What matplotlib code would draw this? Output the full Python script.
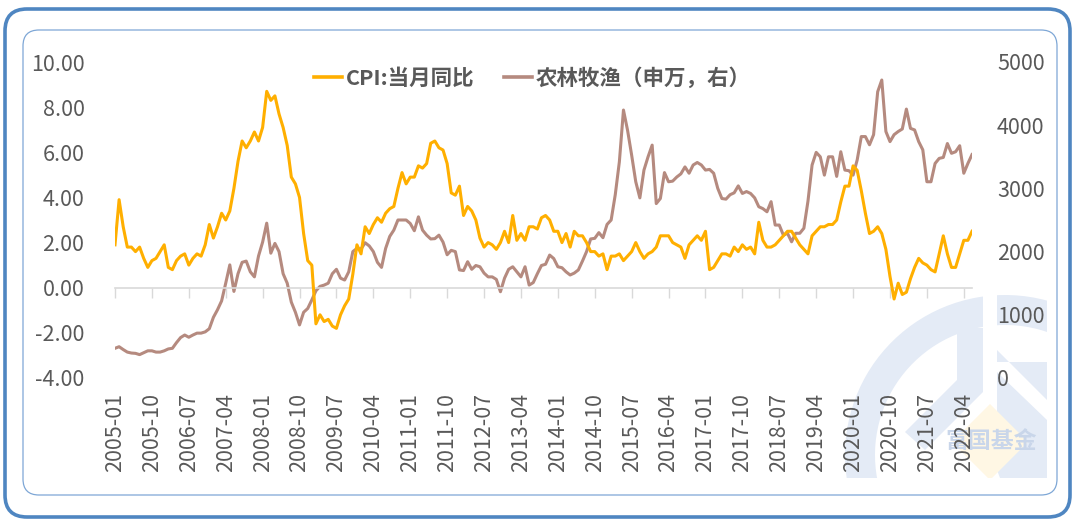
import matplotlib
matplotlib.use("Agg")
import matplotlib.pyplot as plt
from matplotlib.patches import FancyBboxPatch, Wedge, Rectangle, RegularPolygon, Polygon
from matplotlib.transforms import IdentityTransform
from matplotlib.lines import Line2D
import numpy as np
import pandas as pd

plt.rcParams['font.family'] = ['Noto Sans CJK SC', 'DejaVu Sans']

# monthly categories, 2005-01 .. 2022-06
months = pd.period_range('2005-01', '2022-06', freq='M').strftime('%Y-%m').tolist()

# CPI:当月同比 (%)
cpi = [
    1.9, 3.9, 2.7, 1.8, 1.8, 1.6, 1.8, 1.3, 0.9, 1.2, 1.3, 1.6,
    1.9, 0.9, 0.8, 1.2, 1.4, 1.5, 1.0, 1.3, 1.5, 1.4, 1.9, 2.8,
    2.2, 2.7, 3.3, 3.0, 3.4, 4.4, 5.6, 6.5, 6.2, 6.5, 6.9, 6.5,
    7.1, 8.7, 8.3, 8.5, 7.7, 7.1, 6.3, 4.9, 4.6, 4.0, 2.4, 1.2,
    1.0, -1.6, -1.2, -1.5, -1.4, -1.7, -1.8, -1.2, -0.8, -0.5, 0.6, 1.9,
    1.5, 2.7, 2.4, 2.8, 3.1, 2.9, 3.3, 3.5, 3.6, 4.4, 5.1, 4.6,
    4.9, 4.9, 5.4, 5.3, 5.5, 6.4, 6.5, 6.2, 6.1, 5.5, 4.2, 4.1,
    4.5, 3.2, 3.6, 3.4, 3.0, 2.2, 1.8, 2.0, 1.9, 1.7, 2.0, 2.5,
    2.0, 3.2, 2.1, 2.4, 2.1, 2.7, 2.7, 2.6, 3.1, 3.2, 3.0, 2.5,
    2.5, 2.0, 2.4, 1.8, 2.5, 2.3, 2.3, 2.0, 1.6, 1.6, 1.4, 1.5,
    0.8, 1.4, 1.4, 1.5, 1.2, 1.4, 1.6, 2.0, 1.6, 1.3, 1.5, 1.6,
    1.8, 2.3, 2.3, 2.3, 2.0, 1.9, 1.8, 1.3, 1.9, 2.1, 2.3, 2.1,
    2.5, 0.8, 0.9, 1.2, 1.5, 1.5, 1.4, 1.8, 1.6, 1.9, 1.7, 1.8,
    1.5, 2.9, 2.1, 1.8, 1.8, 1.9, 2.1, 2.3, 2.5, 2.5, 2.2, 1.9,
    1.7, 1.5, 2.3, 2.5, 2.7, 2.7, 2.8, 2.8, 3.0, 3.8, 4.5, 4.5,
    5.4, 5.2, 4.3, 3.3, 2.4, 2.5, 2.7, 2.4, 1.7, 0.5, -0.5, 0.2,
    -0.3, -0.2, 0.4, 0.9, 1.3, 1.1, 1.0, 0.8, 0.7, 1.5, 2.3, 1.5,
    0.9, 0.9, 1.5, 2.1, 2.1, 2.5,
]

# 农林牧渔 (申万) index, right axis
agri = [
    470, 495, 450, 410, 395, 390, 370, 400, 430, 430, 410, 410,
    430, 460, 470, 560, 640, 680, 645, 680, 710, 710, 730, 780,
    960, 1080, 1220, 1500, 1790, 1370, 1650, 1830, 1850, 1680, 1600, 1930,
    2150, 2450, 1975, 2130, 2000, 1650, 1500, 1200, 1040, 840, 1040, 1100,
    1235, 1380, 1450, 1470, 1500, 1650, 1720, 1580, 1550, 1680, 2000, 2050,
    2040, 2140, 2090, 2000, 1830, 1750, 2050, 2240, 2340, 2500, 2500, 2500,
    2445, 2330, 2550, 2340, 2260, 2200, 2205, 2260, 2150, 1950, 2020, 2000,
    1710, 1700, 1840, 1720, 1780, 1760, 1660, 1600, 1600, 1560, 1365, 1580,
    1720, 1760, 1680, 1600, 1760, 1470, 1510, 1650, 1780, 1800, 1945, 1890,
    1760, 1745, 1680, 1630, 1660, 1710, 1850, 2000, 2200, 2210, 2300, 2220,
    2430, 2500, 2900, 3420, 4240, 3920, 3525, 3105, 2850, 3290, 3500, 3685,
    2760, 2840, 3250, 3105, 3115, 3180, 3230, 3340, 3240, 3370, 3410, 3370,
    3290, 3300, 3240, 3000, 2840, 2830, 2900, 2930, 3040, 2920, 2950, 2920,
    2850, 2710, 2680, 2630, 2790, 2420, 2420, 2260, 2290, 2155, 2290, 2290,
    2370, 2800, 3370, 3570, 3500, 3210, 3500, 3500, 3190, 3580, 3290, 3280,
    3210, 3450, 3820, 3820, 3690, 3850, 4530, 4715, 3900, 3740, 3850, 3900,
    3940, 4255, 3950, 3925, 3740, 3610, 3105, 3105, 3395, 3475, 3490, 3710,
    3555, 3580, 3675, 3240, 3395, 3535,
]

cpi_label = 'CPI:当月同比'
agri_label = '农林牧渔（申万，右）'
left_ticks = [-4, -2, 0, 2, 4, 6, 8, 10]
right_ticks = [0, 1000, 2000, 3000, 4000, 5000]

ORANGE = '#FFAF00'
BROWN = '#B58A7F'
TEXT = '#595959'
GRID = '#D9D9D9'
WM_BLUE = '#E4EBF6'

W, H = 1080, 526
fig = plt.figure(figsize=(W / 100, H / 100), dpi=100)
px = IdentityTransform()


def add_wm(patch, z=-2):
    # faint watermark pieces, clipped to the logo box (pixel coords, y from bottom)
    patch.set_transform(px)
    patch.set_zorder(z)
    patch.set_clip_path(Rectangle((842, H - 478), 205, 188, transform=px))
    fig.patches.append(patch)


# watermark logo
add_wm(Wedge((1005, H - 455), 160, 0, 200, width=30, facecolor=WM_BLUE, edgecolor='none'))
add_wm(Rectangle((983, H - 350), 14, 62, facecolor='white', edgecolor='none'), z=-1.9)
add_wm(Rectangle((957, H - 388), 26, 60, facecolor=WM_BLUE, edgecolor='none'))
add_wm(Polygon([(957, H - 380), (983, H - 380), (983, H - 392), (925, H - 450),
                (905, H - 432)], facecolor=WM_BLUE, edgecolor='none'))
add_wm(Polygon([(997, H - 362), (1047, H - 362), (1047, H - 400), (997, H - 350)],
               facecolor=WM_BLUE, edgecolor='none'))
add_wm(Polygon([(997, H - 372), (1047, H - 420), (1047, H - 478), (1000, H - 478),
                (997, H - 470)], facecolor=WM_BLUE, edgecolor='none'))
add_wm(RegularPolygon((990, H - 442), 4, radius=38, facecolor='#FFF7E4', edgecolor='none'),
       z=-1.8)
fig.text(991 / W, 1 - 442 / H, '富国基金', ha='center', va='center', fontsize=16.5,
         fontweight='bold', color='#C9D6EA', zorder=-1)

# borders
outer = FancyBboxPatch((5, H - 517), 1065, 508, boxstyle='round,pad=0,rounding_size=22',
                       transform=px, fill=False, edgecolor='#4F86C1',
                       linewidth=2.6, zorder=5)
inner = FancyBboxPatch((23, H - 495), 1034, 465, boxstyle='round,pad=0,rounding_size=16',
                       transform=px, fill=False, edgecolor='#7EA7D6',
                       linewidth=0.9, zorder=5)
fig.patches.extend([outer, inner])

ax = fig.add_axes([115 / W, 1 - 378 / H, (972 - 115) / W, (378 - 62) / H])
ax2 = ax.twinx()
ax.set_zorder(ax2.get_zorder() + 1)
ax.patch.set_visible(False)
ax2.patch.set_visible(False)

x = np.arange(len(months))
ax2.plot(x, agri, color=BROWN, linewidth=2.2, solid_joinstyle='round')
ax.plot(x, cpi, color=ORANGE, linewidth=2.2, solid_joinstyle='round')

ax.set_xlim(0, len(months) - 1)
ax.set_ylim(-4, 10)
ax2.set_ylim(0, 5000)

tick_pos = x[::9]
ax.set_xticks(tick_pos)
ax.set_xticklabels([months[i] for i in tick_pos], rotation=90)
ax.tick_params(axis='x', length=0, pad=11, labelsize=15.5, labelcolor=TEXT)

ax.set_yticks(left_ticks)
ax.set_yticklabels([f'{v:.2f}' for v in left_ticks])
ax.tick_params(axis='y', length=0, pad=22, labelsize=15.5, labelcolor=TEXT)
ax2.set_yticks(right_ticks)
ax2.set_yticklabels([str(v) for v in right_ticks])
ax2.tick_params(axis='y', length=0, pad=18, labelsize=15.5, labelcolor=TEXT)

for a in (ax, ax2):
    for s in a.spines.values():
        s.set_visible(False)

# category axis line crossing at 0 with tick marks
zero_axis = ax.secondary_xaxis(0, transform=ax.transData)
zero_axis.set_xticks(tick_pos)
zero_axis.tick_params(axis='x', direction='out', length=7, width=1, color=GRID,
                      labelbottom=False)
zero_axis.spines['bottom'].set_color(GRID)
zero_axis.spines['bottom'].set_linewidth(1.2)
zero_axis.set_zorder(0)

handles = [Line2D([], [], color=ORANGE, linewidth=2.6),
           Line2D([], [], color=BROWN, linewidth=2.6)]
leg = ax.legend(handles, [cpi_label, agri_label], loc='center', ncol=2,
                bbox_to_anchor=(0.487, 0.949), frameon=False,
                handlelength=1.3, handletextpad=0.15, columnspacing=1.4,
                prop={'size': 15.5, 'weight': 'bold'})
for t in leg.get_texts():
    t.set_color(TEXT)

fig.savefig('out.png', dpi=100)
